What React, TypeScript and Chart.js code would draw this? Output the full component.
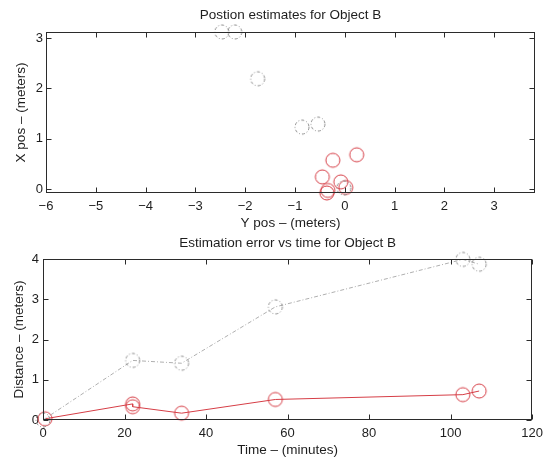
import React, { useEffect, useRef } from "react";
import { Chart, registerables } from "chart.js";
Chart.register(...registerables);

// ---- Data: top plot (position estimates) ----
// horizontal axis = Y pos (m), vertical axis = X pos (m)
const posGrayYpos = [-2.47, -2.21, -1.75, -0.86, -0.54, -0.02];
const posGrayXpos = [3.12, 3.12, 2.19, 1.23, 1.29, 0.02];
const posRedYpos = [0.02, -0.24, -0.45, -0.08, 0.24, -0.34, -0.36];
const posRedXpos = [0.03, 0.57, 0.24, 0.14, 0.68, -0.03, -0.08];

// ---- Data: bottom plot (estimation error vs time) ----
const errGrayTime = [0, 22, 34, 57, 103, 107];
const errGrayDist = [0.0, 1.48, 1.41, 2.81, 3.99, 3.87];
const errRedTime = [0.5, 22, 22, 34, 57, 103, 107];
const errRedDist = [0.03, 0.4, 0.33, 0.17, 0.51, 0.63, 0.72];

// ---- Axis ticks ----
const topXTicks = [-6, -5, -4, -3, -2, -1, 0, 1, 2, 3];
const topYTicks = [0, 1, 2, 3];
const botXTicks = [0, 20, 40, 60, 80, 100, 120];
const botYTicks = [0, 1, 2, 3, 4];

const FONT = '"Liberation Sans", Arial, Helvetica, sans-serif';
const GRAY = "rgb(140,140,140)";
const RED = "rgb(214,62,70)";

function circleImage(color: string, dashed: boolean): HTMLCanvasElement {
  const c = document.createElement("canvas");
  c.width = 18;
  c.height = 18;
  const ctx = c.getContext("2d")!;
  ctx.strokeStyle = color;
  ctx.lineWidth = 1;
  if (dashed) ctx.setLineDash([3, 2, 1, 2]);
  ctx.beginPath();
  ctx.arc(9, 9, 7, 0, Math.PI * 2);
  ctx.stroke();
  return c;
}

const pts = (xs: number[], ys: number[]) => xs.map((x, i) => ({ x, y: ys[i] }));
const fmt = (v: number) => String(v).replace("-", "\u2212");

function framePlugin(o: {
  title: string;
  xTitle: string;
  yTitle: string;
  titleY: number;
  xTitleY: number;
  yTitleX: number;
}) {
  return {
    id: "frame",
    afterDraw(chart: any) {
      const { ctx, chartArea: a } = chart;
      const xs = chart.scales.x;
      const ys = chart.scales.y;
      ctx.save();
      ctx.strokeStyle = "#2b2b2b";
      ctx.lineWidth = 1;
      const L = Math.round(a.left) + 0.5;
      const R = Math.round(a.right) - 0.5;
      const T = Math.round(a.top) + 0.5;
      const B = Math.round(a.bottom) - 0.5;
      ctx.strokeRect(L, T, R - L, B - T);
      ctx.beginPath();
      for (const t of xs.ticks) {
        const px = Math.round(xs.getPixelForValue(t.value)) + 0.5;
        ctx.moveTo(px, B);
        ctx.lineTo(px, B - 5);
        ctx.moveTo(px, T);
        ctx.lineTo(px, T + 5);
      }
      for (const t of ys.ticks) {
        const py = Math.round(ys.getPixelForValue(t.value)) + 0.5;
        ctx.moveTo(L, py);
        ctx.lineTo(L + 5, py);
        ctx.moveTo(R, py);
        ctx.lineTo(R - 5, py);
      }
      ctx.stroke();

      ctx.fillStyle = "#1e1e1e";
      ctx.font = `13.5px ${FONT}`;
      ctx.textAlign = "center";
      ctx.textBaseline = "middle";
      const cx = (a.left + a.right) / 2;
      ctx.fillText(o.title, cx, o.titleY);
      ctx.fillText(o.xTitle, cx, o.xTitleY);
      ctx.translate(o.yTitleX, (a.top + a.bottom) / 2);
      ctx.rotate(-Math.PI / 2);
      ctx.fillText(o.yTitle, 0, 0);
      ctx.restore();
    },
  };
}

function axis(min: number, max: number, ticks: number[], size: number, isX: boolean, pad: number) {
  return {
    type: "linear" as const,
    min,
    max,
    grid: { display: false, drawTicks: false },
    border: { display: false },
    afterBuildTicks: (s: any) => {
      s.ticks = ticks.map((v) => ({ value: v }));
    },
    afterFit: (s: any) => {
      if (isX) s.height = size;
      else s.width = size;
    },
    ticks: {
      color: "#1e1e1e",
      font: { family: FONT, size: 13 },
      padding: pad,
      maxRotation: 0,
      autoSkip: false,
      callback: (v: any) => fmt(Number(v)),
    },
  };
}

export default function App() {
  const topRef = useRef<HTMLCanvasElement>(null);
  const botRef = useRef<HTMLCanvasElement>(null);

  useEffect(() => {
    const grayCircle = circleImage(GRAY, true);
    const redCircle = circleImage(RED, false);

    const top = new Chart(topRef.current!, {
      type: "scatter",
      data: {
        datasets: [
          {
            data: pts(posGrayYpos, posGrayXpos),
            pointStyle: grayCircle as any,
            showLine: false,
            clip: false as any,
          },
          {
            data: pts(posRedYpos, posRedXpos),
            pointStyle: redCircle as any,
            showLine: false,
            clip: false as any,
          },
        ],
      },
      options: {
        responsive: false,
        animation: false,
        events: [],
        layout: { padding: { top: 32, right: 14, left: 0, bottom: 0 } },
        plugins: { legend: { display: false }, tooltip: { enabled: false }, title: { display: false } },
        scales: {
          x: axis(-6, 3.82, topXTicks, 37, true, 6),
          y: axis(-0.08, 3.12, topYTicks, 46, false, 3),
        },
      },
      plugins: [
        framePlugin({
          title: "Postion estimates for Object B",
          xTitle: "Y pos \u2013 (meters)",
          yTitle: "X pos \u2013 (meters)",
          titleY: 15,
          xTitleY: 223,
          yTitleX: 21,
        }),
      ],
    });

    const bot = new Chart(botRef.current!, {
      type: "scatter",
      data: {
        datasets: [
          {
            data: pts(errGrayTime, errGrayDist),
            pointStyle: grayCircle as any,
            showLine: true,
            borderColor: "rgb(175,175,175)",
            borderWidth: 1,
            borderDash: [4, 2, 1, 2],
            clip: false as any,
          },
          {
            data: pts(errRedTime, errRedDist),
            pointStyle: redCircle as any,
            showLine: true,
            borderColor: RED,
            borderWidth: 1,
            clip: false as any,
          },
        ],
      },
      options: {
        responsive: false,
        animation: false,
        events: [],
        layout: { padding: { top: 29, right: 12, left: 0, bottom: 0 } },
        plugins: { legend: { display: false }, tooltip: { enabled: false }, title: { display: false } },
        scales: {
          x: axis(0, 120, botXTicks, 40, true, 6),
          y: axis(0, 4, botYTicks, 43, false, 4),
        },
      },
      plugins: [
        framePlugin({
          title: "Estimation error vs time for Object B",
          xTitle: "Time \u2013 (minutes)",
          yTitle: "Distance \u2013 (meters)",
          titleY: 13,
          xTitleY: 220,
          yTitleX: 19,
        }),
      ],
    });

    return () => {
      top.destroy();
      bot.destroy();
    };
  }, []);

  return (
    <div style={{ position: "absolute", left: 0, top: 0, width: 549, height: 460, background: "#fff" }}>
      <canvas ref={topRef} width={549} height={230} style={{ display: "block" }} />
      <canvas ref={botRef} width={549} height={230} style={{ display: "block" }} />
    </div>
  );
}
